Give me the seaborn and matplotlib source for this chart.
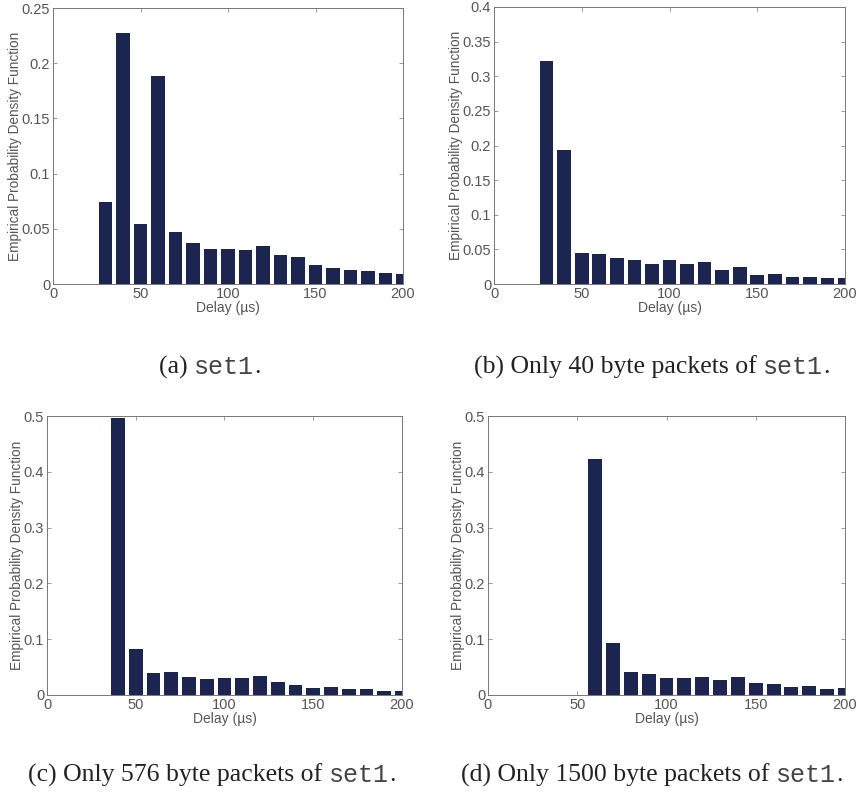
import matplotlib
matplotlib.use("Agg")
import matplotlib.pyplot as plt
import matplotlib.ticker as mticker
import numpy as np
import pandas as pd
import seaborn as sns

sns.set_theme(style="white")
plt.rcParams['font.family'] = ['Liberation Sans', 'DejaVu Sans']

# ---- data (bin centres in µs, empirical PDF values) ----
delay_a = [30, 40, 50, 60, 70, 80, 90, 100, 110, 120, 130, 140, 150, 160, 170, 180, 190, 200]
pdf_a = [0.0744, 0.2273, 0.0541, 0.1886, 0.0472, 0.0369, 0.032, 0.032, 0.0305, 0.0342,
         0.0263, 0.0242, 0.0169, 0.0148, 0.013, 0.0115, 0.0103, 0.0091]

delay_b = [30, 40, 50, 60, 70, 80, 90, 100, 110, 120, 130, 140, 150, 160, 170, 180, 190, 200]
pdf_b = [0.3224, 0.1937, 0.0443, 0.0434, 0.0371, 0.0342, 0.0294, 0.0342, 0.0284, 0.0323,
         0.0202, 0.0246, 0.0125, 0.014, 0.0101, 0.0101, 0.0082, 0.0082]

delay_c = [40, 50, 60, 70, 80, 90, 100, 110, 120, 130, 140, 150, 160, 170, 180, 190, 200]
pdf_c = [0.4964, 0.0829, 0.040, 0.0418, 0.0322, 0.0292, 0.031, 0.0298, 0.0346, 0.0233,
         0.0173, 0.0131, 0.0137, 0.0101, 0.0101, 0.0078, 0.0078]

delay_d = [60, 70, 80, 90, 100, 110, 120, 130, 140, 150, 160, 170, 180, 190, 200]
pdf_d = [0.4236, 0.0931, 0.0406, 0.0382, 0.031, 0.0298, 0.0322, 0.0274, 0.0322, 0.0215,
         0.0191, 0.0143, 0.0161, 0.0113, 0.0125]

yticks_a = [0, 0.05, 0.1, 0.15, 0.2, 0.25]
yticks_b = [0, 0.05, 0.1, 0.15, 0.2, 0.25, 0.3, 0.35, 0.4]
yticks_c = [0, 0.1, 0.2, 0.3, 0.4, 0.5]
yticks_d = [0, 0.1, 0.2, 0.3, 0.4, 0.5]
xticks = [0, 50, 100, 150, 200]

captions = [("(a) ", "set1", "."),
            ("(b) Only 40 byte packets of ", "set1", "."),
            ("(c) Only 576 byte packets of ", "set1", "."),
            ("(d) Only 1500 byte packets of ", "set1", ".")]

BAR = "#1c2550"
GRAY = "#555555"

W, H = 858, 796
fig = plt.figure(figsize=(W / 100, H / 100), dpi=100)

# axes boxes in pixels: left, right, top, bottom
boxes = [(53, 403, 8, 284), (494, 845, 7, 284), (47, 402, 416, 695), (488, 845, 416, 695)]
panels = [(delay_a, pdf_a, yticks_a), (delay_b, pdf_b, yticks_b),
          (delay_c, pdf_c, yticks_c), (delay_d, pdf_d, yticks_d)]

for (l, r, t, b), (dx, py, yt) in zip(boxes, panels):
    ax = fig.add_axes([l / W, 1 - b / H, (r - l) / W, (b - t) / H])
    df = pd.DataFrame({"delay": dx, "pdf": py})
    sns.barplot(data=df, x="delay", y="pdf", native_scale=True, color=BAR,
                saturation=1, width=0.78, linewidth=0, ax=ax)
    ax.set_xlim(0, 200)
    ax.set_ylim(yt[0], yt[-1])
    ax.set_xticks(xticks)
    ax.set_yticks(yt)
    ax.xaxis.set_major_formatter(mticker.FuncFormatter(lambda v, p: "%g" % v))
    ax.yaxis.set_major_formatter(mticker.FuncFormatter(lambda v, p: "%g" % v))
    ax.tick_params(direction="in", length=3, width=0.6, colors="#888888",
                   labelcolor=GRAY, labelsize=10.5, top=True, right=True,
                   bottom=True, left=True, pad=2)
    for s in ax.spines.values():
        s.set_visible(True)
        s.set_color("#777777")
        s.set_linewidth(0.7)
    ax.set_xlabel("Delay (µs)", fontsize=10, color=GRAY, labelpad=0)
    ax.set_ylabel("Empirical Probability Density Function", fontsize=9.8,
                  color=GRAY, labelpad=0)

# captions (serif + monospace)
cap_pos = [(210, 367), (652, 367), (212, 775), (652, 775)]
for (cx, cy), (pre, mono, post) in zip(cap_pos, captions):
    t1 = fig.text(0, 0, pre, family="Liberation Serif", fontsize=18.5)
    t2 = fig.text(0, 0, mono, family="Liberation Mono", fontsize=18)
    t3 = fig.text(0, 0, post, family="Liberation Serif", fontsize=18.5)
    fig.canvas.draw()
    r = fig.canvas.get_renderer()
    w1 = t1.get_window_extent(r).width
    w2 = t2.get_window_extent(r).width
    w3 = t3.get_window_extent(r).width
    x0 = cx - (w1 + w2 + w3) / 2
    y = (H - cy) / H
    t1.set_position((x0 / W, y)); t1.set_va("center")
    t2.set_position(((x0 + w1) / W, y)); t2.set_va("center")
    t3.set_position(((x0 + w1 + w2) / W, y)); t3.set_va("center")
    t1.set_color("#222222"); t3.set_color("#222222")
    t2.set_color("#444444")

fig.savefig("out.png", dpi=100, facecolor="white")
